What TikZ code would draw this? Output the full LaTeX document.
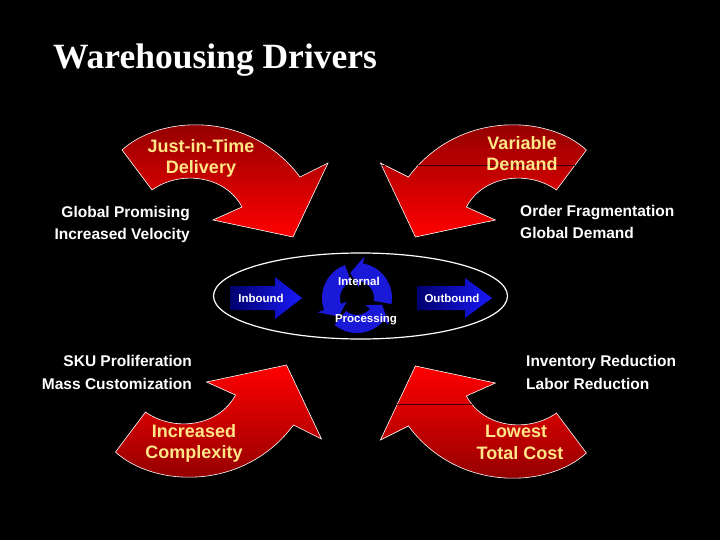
\documentclass[tikz,border=0pt]{standalone}
\usepackage{fontspec}
\setmainfont{Liberation Serif}
\newfontfamily\arialf{Liberation Sans}
\definecolor{ylw}{RGB}{255,230,135}
\definecolor{dred}{RGB}{135,0,0}
\definecolor{bred}{RGB}{255,0,0}
\definecolor{dblue}{RGB}{0,0,110}
\definecolor{bblue}{RGB}{25,25,250}
\definecolor{rblue}{RGB}{25,25,215}
\begin{document}
\begin{tikzpicture}[x=1pt,y=-1pt,
  redarrow/.style={draw=white, line width=0.6pt},
  ytext/.style={text=ylw, font=\arialf\bfseries\fontsize{18}{21}\selectfont, inner sep=0pt, anchor=base},
  wtext/.style={text=white, font=\arialf\bfseries\fontsize{15.5}{18}\selectfont, inner sep=0pt},
  stext/.style={text=white, font=\arialf\bfseries\fontsize{11.5}{13}\selectfont, inner sep=0pt, anchor=base},
  bluearrow/.style={left color=dblue, right color=bblue},
  ringarrow/.style={fill=rblue},
  seam/.style={draw={rgb,255:red,60;green,0;blue,0}, line width=0.6pt}]

\fill[black] (0,0) rectangle (720,540);
\useasboundingbox (0,0) rectangle (720,540);

% title
\node[text=white, font=\fontsize{35.5}{40}\selectfont\bfseries, inner sep=0pt, anchor=base west] (title) at (53,69) {Warehousing Drivers};

% top-left red arrow
\path[redarrow, top color=dred, bottom color=bred]
  (122,150) .. controls (160,115) and (250,110) .. (300,177) -- (328,163) -- (293,237)
  -- (213,220) -- (242,207) .. controls (225,175) and (180,170) .. (152,190) -- cycle;

% top-right red arrow
\path[redarrow, top color=dred, bottom color=bred]
  (586.4,150) .. controls (548.4,115) and (458.4,110) .. (408.4,177) -- (380.4,163) -- (415.4,237)
  -- (495.4,220) -- (466.4,207) .. controls (483.4,175) and (528.4,170) .. (556.4,190) -- cycle;
\begin{scope}
  \clip (586.4,150) .. controls (548.4,115) and (458.4,110) .. (408.4,177) -- (380.4,163) -- (415.4,237)
  -- (495.4,220) -- (466.4,207) .. controls (483.4,175) and (528.4,170) .. (556.4,190) -- cycle;
  \path[seam] (380,165) -- (600,165);
\end{scope}

% bottom-left red arrow
\path[redarrow, top color=bred, bottom color=dred]
  (115.5,452) .. controls (153.5,487) and (243.5,492) .. (293.5,425) -- (321.5,439) -- (286.5,365)
  -- (206.5,382) -- (235.5,395) .. controls (218.5,427) and (173.5,432) .. (145.5,412) -- cycle;

% bottom-right red arrow
\path[redarrow, top color=bred, bottom color=dred]
  (586.4,453) .. controls (548.4,488) and (458.4,493) .. (408.4,426) -- (380.4,440) -- (415.4,366)
  -- (495.4,383) -- (466.4,396) .. controls (483.4,428) and (528.4,433) .. (556.4,413) -- cycle;
\begin{scope}
  \clip (586.4,453) .. controls (548.4,488) and (458.4,493) .. (408.4,426) -- (380.4,440) -- (415.4,366)
  -- (495.4,383) -- (466.4,396) .. controls (483.4,428) and (528.4,433) .. (556.4,413) -- cycle;
  \path[seam] (380,404) -- (600,404);
\end{scope}

% yellow texts
\node[ytext] (jit1) at (201,153) {Just-in-Time};
\node[ytext] (jit2) at (201,174) {Delivery};
\node[ytext] (var1) at (522,150) {Variable};
\node[ytext] (var2) at (522,171) {Demand};
\node[ytext] (inc1) at (194,437) {Increased};
\node[ytext] (inc2) at (194,458) {Complexity};
\node[ytext] (low1) at (516,437) {Lowest};
\node[ytext] (low2) at (520,459) {Total Cost};

% white side texts
\node[wtext, anchor=base east] (gp1) at (190,218) {Global Promising};
\node[wtext, anchor=base east] (gp2) at (190,240) {Increased Velocity};
\node[wtext, anchor=base west] (of1) at (520,217) {Order Fragmentation};
\node[wtext, anchor=base west] (of2) at (520,239) {Global Demand};
\node[wtext, anchor=base east] (sku1) at (192,366) {SKU Proliferation};
\node[wtext, anchor=base east] (sku2) at (192,389) {Mass Customization};
\node[wtext, anchor=base west] (inv1) at (526,366) {Inventory Reduction};
\node[wtext, anchor=base west] (inv2) at (526,389) {Labor Reduction};

% central ellipse
\draw[white, line width=1.2pt] (360.5,296) ellipse [x radius=147, y radius=43];

% inbound / outbound arrows
\path[bluearrow] (230,286) -- (275,286) -- (275,277) -- (302,298) -- (275,319) -- (275,310) -- (230,310) -- cycle;
\path[bluearrow] (417,286) -- (465,286) -- (465,278) -- (492,298) -- (465,318) -- (465,310) -- (417,310) -- cycle;

% processing cycle
\begin{scope}[shift={(357,298)}]
  \fill[ringarrow] (10:35) arc[start angle=10, end angle=-80, radius=35] -- (-80:42) -- (-105:26) -- (-80:11) -- (-80:17) arc[start angle=-80, end angle=10, radius=17] -- cycle;
  \fill[ringarrow] (-110:35) arc[start angle=-110, end angle=-200, radius=35] -- (-200:42) -- (-225:26) -- (-200:11) -- (-200:17) arc[start angle=-200, end angle=-110, radius=17] -- cycle;
  \fill[ringarrow] (-230:35) arc[start angle=-230, end angle=-320, radius=35] -- (-320:42) -- (-345:26) -- (-320:11) -- (-320:17) arc[start angle=-320, end angle=-230, radius=17] -- cycle;
\end{scope}

% small labels
\node[stext] (inb) at (261,302) {Inbound};
\node[stext] (outb) at (452,302) {Outbound};
\node[stext] (intl) at (359,285) {Internal};
\node[stext] (proc) at (366,322) {Processing};
\end{tikzpicture}
\end{document}
